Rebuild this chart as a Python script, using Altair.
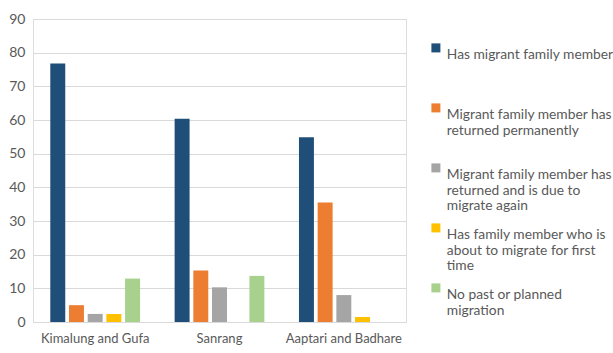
import altair as alt
import pandas as pd

sites = ["Kimalung and Gufa", "Sanrang", "Aaptari and Badhare"]
series = [
    "Has migrant family member",
    "Migrant family member  has returned permanently",
    "Migrant family member has returned and is due to migrate again",
    "Has family member who is about to migrate for first time",
    "No past or planned migration",
]
legend_lines = [
    "Has migrant family member| | ",
    "Migrant family member  has|returned permanently| ",
    "Migrant family member has|returned and is due to|migrate again",
    "Has family member who is|about to migrate for first|time",
    "No past or planned|migration| ",
]
values = {
    "Kimalung and Gufa": [76.8, 5.0, 2.4, 2.4, 12.9],
    "Sanrang": [60.4, 15.3, 10.3, 0.0, 13.7],
    "Aaptari and Badhare": [54.9, 35.5, 8.0, 1.5, 0.0],
}
colors = ["#1F4E79", "#ED7D31", "#A5A5A5", "#FFC000", "#A9D18E"]
y_ticks = [0, 10, 20, 30, 40, 50, 60, 70, 80, 90]

rows = []
for s in sites:
    for i, ser in enumerate(series):
        rows.append({"site": s, "series": ser, "value": values[s][i]})
df = pd.DataFrame(rows)

FONT = "Lato"
cases = ""
for ser, lab in zip(series, legend_lines):
    cases += f"datum.label == '{ser}' ? split('{lab}', '|') : "
cases += "datum.label"

chart = alt.Chart(df).mark_bar().encode(
    x=alt.X("site:N", sort=sites, title=None,
            scale=alt.Scale(paddingInner=0, paddingOuter=0),
            axis=alt.Axis(labelAngle=0, ticks=False, domain=False, labelPadding=10,
                          labelFontSize=13, labelColor="#595959", labelFont=FONT)),
    xOffset=alt.XOffset("series:N", sort=series,
                        scale=alt.Scale(paddingInner=0.2, paddingOuter=0.925)),
    y=alt.Y("value:Q", title=None,
            scale=alt.Scale(domain=[0, 90], nice=False),
            axis=alt.Axis(values=y_ticks, ticks=False, domain=False, labelPadding=8,
                          gridColor="#D9D9D9", gridWidth=1.2,
                          labelFontSize=14, labelColor="#595959", labelFont=FONT)),
    color=alt.Color("series:N", sort=series,
                    scale=alt.Scale(domain=series, range=colors),
                    legend=alt.Legend(title=None, orient="none", legendX=396, legendY=22,
                                      symbolType="square", symbolSize=81, symbolStrokeWidth=0,
                                      labelFontSize=13.8, labelColor="#595959", labelFont=FONT,
                                      labelLimit=300, labelBaseline="top", labelOffset=4,
                                      rowPadding=7, labelExpr=cases)),
).properties(
    width=373, height=303,
    autosize=alt.AutoSizeParams(type="none"),
    padding={"left": 33, "top": 19, "right": 207, "bottom": 31},
).configure_view(stroke=None).configure(background="white")

chart.save("out.html", embed_options={"renderer": "svg", "actions": False})
